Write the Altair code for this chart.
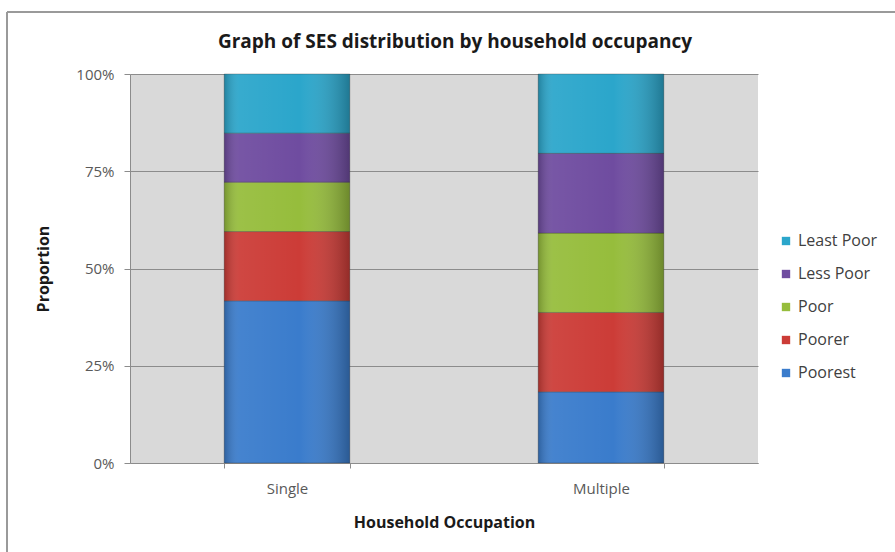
import altair as alt
import pandas as pd

# Household occupancy groups and SES quintiles (bottom to top of each stack)
occupancy = ["Single", "Multiple"]
ses_levels = ["Poorest", "Poorer", "Poor", "Less Poor", "Least Poor"]
ses_colors = ["#3a7ccc", "#cc3c37", "#96bd3c", "#6f4ca0", "#2ba6cb"]

# Proportion of households in each SES quintile (percent)
single_pct = [41.7, 17.8, 12.7, 12.6, 15.2]
multiple_pct = [18.3, 20.4, 20.4, 20.5, 20.4]

rows = []
for group, values in zip(occupancy, [single_pct, multiple_pct]):
    for i, (level, v) in enumerate(zip(ses_levels, values)):
        rows.append({"occupancy": group, "ses": level, "rank": i, "share": v / 100.0})
df = pd.DataFrame(rows)

FONT = "Open Sans"
GRID = "#8c8c8c"

x_enc = alt.X(
    "occupancy:N",
    sort=occupancy,
    scale=alt.Scale(paddingInner=0.6, paddingOuter=0.3),
    axis=alt.Axis(
        title="Household Occupation",
        labelAngle=0,
        tickBand="extent",
        tickSize=5,
        labelPadding=13,
        titlePadding=18,
    ),
)
y_enc = alt.Y(
    "share:Q",
    stack="zero",
    scale=alt.Scale(domain=[0, 1]),
    axis=alt.Axis(
        title="Proportion",
        format="%",
        values=[0, 0.25, 0.5, 0.75, 1.0],
        tickSize=6,
        labelPadding=10,
        titlePadding=24,
    ),
)

bars = alt.Chart(df).mark_bar(stroke="#2e2e2e", strokeOpacity=0.4, strokeWidth=0.8).encode(
    x=x_enc,
    y=y_enc,
    color=alt.Color(
        "ses:N",
        sort=list(reversed(ses_levels)),
        scale=alt.Scale(domain=list(reversed(ses_levels)), range=list(reversed(ses_colors))),
        legend=alt.Legend(
            title=None,
            orient="none",
            legendX=648,
            legendY=159,
            symbolType="square",
            symbolSize=70,
            symbolStrokeWidth=0,
            rowPadding=17,
            labelFontSize=16,
            labelFont=FONT,
            labelColor="#404040",
        ),
    ),
    order=alt.Order("rank:Q", sort="ascending"),
)

# Glossy shading over each segment: darker side edges, lighter centre
shade = alt.Chart(df).mark_bar(
    fill=alt.Gradient(
        gradient="linear",
        x1=0, x2=1, y1=0, y2=0,
        stops=[
            alt.GradientStop(color="rgba(0,0,0,0.22)", offset=0),
            alt.GradientStop(color="rgba(255,255,255,0.06)", offset=0.12),
            alt.GradientStop(color="rgba(255,255,255,0.0)", offset=0.6),
            alt.GradientStop(color="rgba(0,0,0,0.28)", offset=1),
        ],
    )
).encode(
    x=x_enc,
    y=y_enc,
    detail="ses:N",
    order=alt.Order("rank:Q", sort="ascending"),
)

# Chart frame along the top and left edges
frame_top = alt.Chart(df).mark_rule(color="#9a9a9a", strokeWidth=1.5).encode(
    x=alt.value(-123), x2=alt.value(765), y=alt.value(-62)
)
frame_left = alt.Chart(df).mark_rule(color="#9a9a9a", strokeWidth=1.5).encode(
    x=alt.value(-123), y=alt.value(-62), y2=alt.value(478)
)

chart = (
    alt.layer(bars, shade, frame_top, frame_left)
    .properties(
        width=628,
        height=389,
        background="white",
        title=alt.TitleParams(
            "Graph of SES distribution by household occupancy",
            font=FONT,
            fontSize=19,
            fontWeight="bold",
            color="#1a1a1a",
            anchor="middle",
            frame="group",
            dx=11,
            offset=-41,
        ),
        padding={"left": 130, "top": 74, "right": 137, "bottom": 89},
        autosize=alt.AutoSizeParams(type="none"),
    )
    .configure_view(fill="#d9d9d9", stroke=None)
    .configure_axis(
        labelFont=FONT,
        titleFont=FONT,
        labelFontSize=15,
        titleFontSize=16,
        titleFontWeight="bold",
        titleColor="#1a1a1a",
        labelColor="#595959",
        domainColor=GRID,
        tickColor=GRID,
        gridColor=GRID,
    )
    .configure_axisX(grid=False)
)

chart.save("out.html", embed_options={"renderer": "svg", "actions": False})
